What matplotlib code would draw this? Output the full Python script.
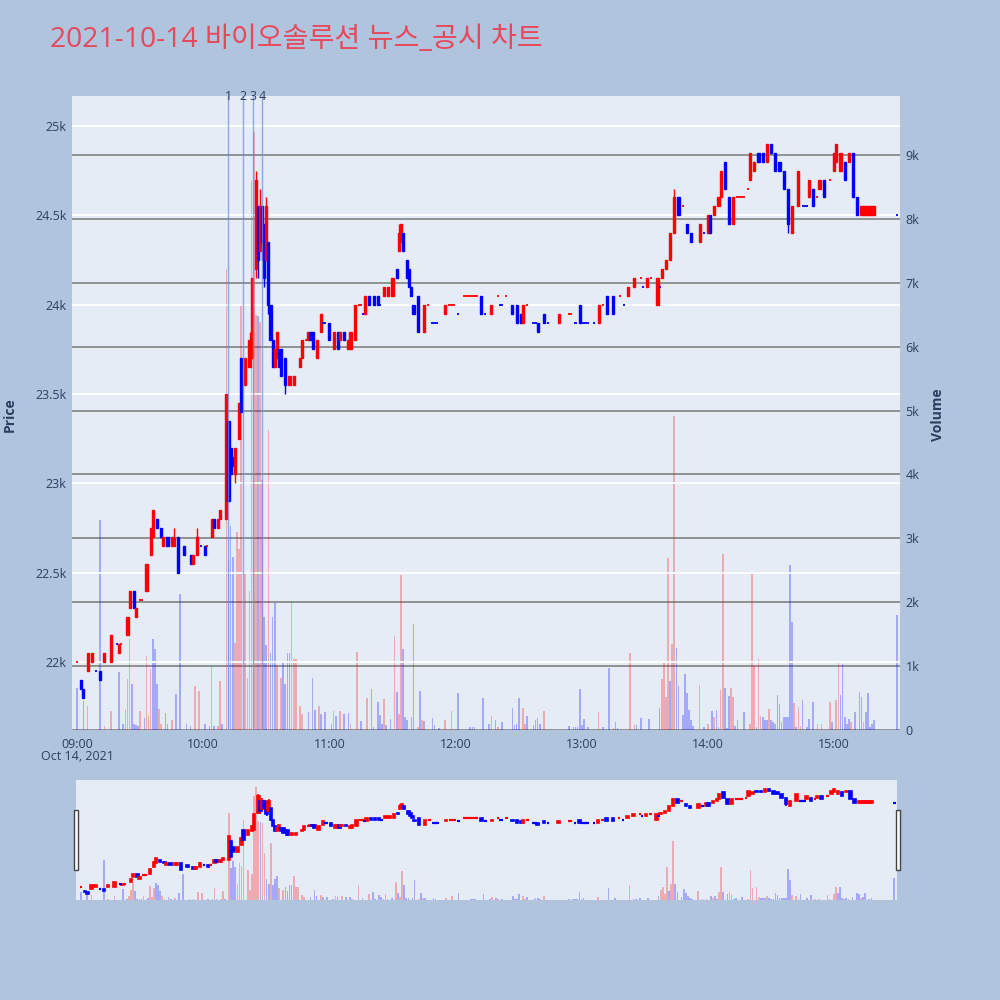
import matplotlib
matplotlib.use("Agg")
import matplotlib.pyplot as plt
import matplotlib.transforms as mtransforms
from matplotlib.patches import Rectangle
from matplotlib.colors import to_rgba

plt.rcParams['font.family'] = ['Open Sans', 'Noto Sans CJK KR', 'DejaVu Sans']

TITLE = "2021-10-14 바이오솔루션 뉴스_공시 차트"
x_tick_minutes = [0, 60, 120, 180, 240, 300, 360]
x_tick_labels = ["09:00", "10:00", "11:00", "12:00", "13:00", "14:00", "15:00"]
date_label = "Oct 14, 2021"
price_ticks = [22000, 22500, 23000, 23500, 24000, 24500, 25000]
price_tick_labels = ["22k", "22.5k", "23k", "23.5k", "24k", "24.5k", "25k"]
volume_ticks = [0, 1000, 2000, 3000, 4000, 5000, 6000, 7000, 8000, 9000]
volume_tick_labels = ["0", "1k", "2k", "3k", "4k", "5k", "6k", "7k", "8k", "9k"]
news_minutes = [72, 79, 83.5, 88]
news_labels = ["1", "2", "3", "4"]

# minute candles (minutes after 09:00)
c_time = [0, 2, 3, 5, 7, 9, 11, 13, 16, 19, 20, 21, 24, 25, 27, 28, 30, 31, 33, 35,
          36, 38, 40, 41, 43, 45, 46, 48, 51, 54, 55, 57, 59, 61, 62, 64, 65, 67, 68, 71,
          72, 73, 74, 75, 77, 78, 80, 82, 83, 85, 86, 87, 88, 89, 90, 91, 92, 93, 94, 95,
          96, 97, 99, 101, 103, 106, 107, 109, 110, 111, 112, 114, 116, 117, 118, 120, 122, 124, 125, 127,
          129, 130, 132, 134, 135, 136, 137, 139, 141, 143, 144, 146, 148, 150, 152, 153, 154, 155, 157, 158,
          159, 160, 162, 165, 167, 169, 170, 171, 175, 177, 178, 179, 181, 184, 185, 186, 187, 188, 189, 190,
          192, 194, 197, 200, 201, 202, 204, 207, 209, 211, 212, 214, 217, 218, 219, 222, 224, 229, 234, 235,
          237, 239, 240, 241, 242, 243, 246, 248, 250, 252, 255, 258, 260, 262, 265, 268, 269, 271, 273, 276,
          277, 278, 280, 282, 284, 286, 288, 290, 292, 296, 298, 300, 301, 303, 305, 306, 308, 310, 312, 314,
          315, 316, 317, 319, 320, 322, 324, 326, 328, 330, 332, 334, 336, 338, 340, 343, 345, 346, 347, 348,
          350, 352, 353, 355, 358, 360, 361, 363, 365, 367, 369, 371, 373, 374, 375, 376, 377, 378, 379, 390]
c_open = [22000, 21900, 21850, 21950, 22000, 21950, 21950, 22000, 22000, 22100, 22050, 22100, 22150, 22300, 22400, 22250, 22350, 22350, 22400, 22600,
          22700, 22800, 22750, 22650, 22700, 22650, 22650, 22700, 22650, 22600, 22550, 22600, 22650, 22650, 22650, 22700, 22800, 22750, 22800, 22800,
          23350, 23200, 23150, 23050, 23250, 23700, 23550, 23650, 23700, 24200, 24550, 24300, 24550, 24450, 24250, 24350, 24000, 23800, 23650, 23700,
          23750, 23750, 23700, 23550, 23550, 23650, 23700, 23800, 23800, 23850, 23850, 23700, 23850, 23900, 23900, 23900, 23750, 23850, 23800, 23850,
          23750, 23750, 23800, 24000, 24000, 23950, 23950, 24050, 24050, 24050, 24000, 24050, 24050, 24050, 24200, 24300, 24350, 24400, 24250, 24200,
          24100, 24000, 24050, 23850, 24000, 23900, 23900, 23900, 23950, 24000, 24000, 24000, 23950, 24050, 24050, 24050, 24050, 24050, 24050, 24050,
          24050, 23950, 23950, 24050, 24000, 24000, 24050, 24000, 24000, 23950, 23900, 24000, 23900, 23900, 23900, 23950, 23900, 23900, 23950, 23950,
          23900, 24000, 23900, 23900, 23900, 23900, 23900, 23900, 24000, 24050, 24050, 24050, 24000, 24050, 24100, 24150, 24100, 24100, 24150, 24000,
          24100, 24150, 24200, 24250, 24400, 24600, 24550, 24450, 24400, 24350, 24400, 24400, 24500, 24500, 24550, 24600, 24800, 24600, 24450, 24600,
          24600, 24600, 24600, 24650, 24700, 24750, 24850, 24850, 24800, 24900, 24850, 24800, 24750, 24650, 24400, 24550, 24550, 24550, 24550, 24600,
          24650, 24600, 24650, 24700, 24700, 24750, 24800, 24750, 24800, 24800, 24850, 24600, 24500, 24500, 24500, 24500, 24500, 24500, 24500, 24500]
c_high = [22000, 21900, 21850, 22050, 22050, 21950, 21950, 22050, 22150, 22100, 22100, 22100, 22250, 22400, 22400, 22300, 22350, 22350, 22550, 22750,
          22850, 22800, 22750, 22700, 22700, 22700, 22750, 22700, 22650, 22600, 22600, 22750, 22650, 22650, 22650, 22800, 22800, 22800, 22850, 23500,
          23350, 23200, 23150, 23200, 23450, 23700, 23700, 23850, 24150, 24750, 24550, 24650, 24550, 24450, 24600, 24350, 24000, 23800, 23750, 23850,
          23750, 23750, 23700, 23600, 23600, 23700, 23800, 23800, 23850, 23850, 23850, 23800, 23950, 23900, 23900, 23900, 23850, 23850, 23850, 23850,
          23800, 23850, 24000, 24000, 24000, 23950, 24050, 24050, 24050, 24050, 24000, 24100, 24100, 24150, 24200, 24450, 24450, 24400, 24250, 24200,
          24100, 24000, 24050, 24000, 24000, 23900, 23900, 23900, 24000, 24000, 24000, 24000, 23950, 24050, 24050, 24050, 24050, 24050, 24050, 24050,
          24050, 23950, 24000, 24050, 24000, 24000, 24050, 24000, 24000, 23950, 24000, 24000, 23900, 23900, 23900, 23950, 23900, 23950, 23950, 23950,
          23900, 24000, 23900, 23900, 23900, 23900, 23900, 24000, 24000, 24050, 24050, 24050, 24000, 24100, 24150, 24150, 24100, 24150, 24150, 24150,
          24100, 24200, 24250, 24400, 24650, 24600, 24550, 24450, 24400, 24450, 24400, 24500, 24500, 24550, 24600, 24750, 24800, 24600, 24600, 24600,
          24600, 24600, 24600, 24650, 24850, 24800, 24850, 24850, 24900, 24900, 24850, 24800, 24750, 24650, 24550, 24750, 24550, 24550, 24550, 24700,
          24650, 24600, 24700, 24700, 24700, 24850, 24900, 24850, 24800, 24850, 24850, 24600, 24550, 24550, 24550, 24550, 24550, 24550, 24550, 24500]
c_low = [22000, 21850, 21800, 21950, 22000, 21950, 21900, 22000, 22000, 22100, 22050, 22100, 22150, 22300, 22300, 22250, 22350, 22350, 22400, 22600,
         22700, 22750, 22700, 22650, 22650, 22650, 22650, 22500, 22600, 22550, 22550, 22600, 22650, 22600, 22650, 22700, 22750, 22750, 22800, 22800,
         22900, 23050, 23100, 23000, 23250, 23400, 23550, 23650, 23700, 24150, 24150, 24300, 24250, 24100, 24250, 23950, 23800, 23650, 23650, 23700,
         23650, 23600, 23500, 23550, 23550, 23650, 23700, 23800, 23800, 23800, 23750, 23700, 23850, 23900, 23900, 23800, 23750, 23750, 23800, 23800,
         23750, 23750, 23800, 24000, 24000, 23950, 23950, 24000, 24000, 24000, 24000, 24050, 24050, 24050, 24150, 24300, 24350, 24300, 24150, 24100,
         24050, 23950, 23850, 23850, 24000, 23900, 23900, 23900, 23950, 24000, 24000, 24000, 23950, 24050, 24050, 24050, 24050, 24050, 24050, 24050,
         23950, 23950, 23950, 24050, 24000, 24000, 24050, 23950, 23900, 23900, 23900, 24000, 23900, 23900, 23850, 23900, 23900, 23900, 23950, 23950,
         23900, 23900, 23900, 23900, 23900, 23900, 23900, 23900, 24000, 23950, 23950, 24050, 24000, 24050, 24100, 24150, 24100, 24100, 24150, 24000,
         24100, 24150, 24200, 24250, 24400, 24500, 24550, 24400, 24350, 24350, 24400, 24400, 24400, 24500, 24550, 24600, 24650, 24450, 24450, 24600,
         24600, 24600, 24600, 24650, 24700, 24750, 24800, 24800, 24800, 24850, 24750, 24750, 24650, 24400, 24400, 24550, 24550, 24550, 24550, 24600,
         24550, 24600, 24650, 24600, 24700, 24750, 24800, 24750, 24700, 24800, 24600, 24500, 24500, 24500, 24500, 24500, 24500, 24500, 24500, 24500]
c_close = [22000, 21850, 21800, 22050, 22050, 21950, 21900, 22050, 22150, 22100, 22100, 22100, 22250, 22400, 22300, 22300, 22350, 22350, 22550, 22750,
           22850, 22750, 22700, 22700, 22650, 22700, 22700, 22500, 22600, 22550, 22600, 22700, 22650, 22600, 22650, 22800, 22750, 22800, 22850, 23500,
           22900, 23050, 23100, 23200, 23450, 23400, 23700, 23800, 24150, 24700, 24250, 24550, 24350, 24150, 24550, 24000, 23800, 23650, 23750, 23850,
           23650, 23600, 23550, 23600, 23600, 23700, 23800, 23800, 23850, 23800, 23750, 23800, 23950, 23900, 23900, 23800, 23850, 23750, 23850, 23800,
           23800, 23850, 24000, 24000, 24000, 23950, 24050, 24000, 24000, 24000, 24000, 24100, 24100, 24150, 24150, 24400, 24450, 24300, 24150, 24100,
           24050, 23950, 23850, 24000, 24000, 23900, 23900, 23900, 24000, 24000, 24000, 24000, 23950, 24050, 24050, 24050, 24050, 24050, 24050, 24050,
           23950, 23950, 24000, 24050, 24000, 24000, 24050, 23950, 23900, 23900, 24000, 24000, 23900, 23900, 23850, 23900, 23900, 23950, 23950, 23950,
           23900, 23900, 23900, 23900, 23900, 23900, 23900, 24000, 24000, 23950, 23950, 24050, 24000, 24100, 24150, 24150, 24100, 24150, 24150, 24150,
           24100, 24200, 24250, 24400, 24600, 24500, 24550, 24400, 24350, 24450, 24400, 24500, 24400, 24550, 24600, 24750, 24650, 24450, 24600, 24600,
           24600, 24600, 24600, 24650, 24850, 24800, 24800, 24800, 24900, 24850, 24750, 24750, 24650, 24450, 24550, 24750, 24550, 24550, 24550, 24700,
           24550, 24600, 24700, 24600, 24700, 24850, 24900, 24850, 24700, 24850, 24600, 24500, 24550, 24550, 24550, 24550, 24550, 24550, 24550, 24500]

# volume bars: minute, shares, direction (u = up/red, d = down/blue)
v_time = [0, 3, 5, 11, 13, 16, 20, 22, 23, 24, 25, 26, 27, 28, 29, 30, 32, 33, 34, 35,
          36, 37, 38, 39, 40, 42, 43, 45, 47, 49, 52, 54, 56, 58, 61, 63, 64, 65, 67, 68,
          69, 71, 72, 73, 74, 75, 76, 77, 78, 80, 81, 82, 83, 84, 85, 86, 87, 88, 89, 90,
          91, 92, 93, 94, 95, 97, 98, 99, 100, 101, 102, 103, 104, 106, 107, 110, 112, 113, 115, 116,
          118, 121, 122, 123, 125, 127, 129, 130, 133, 135, 138, 140, 141, 143, 144, 145, 146, 147, 149, 151,
          152, 153, 154, 155, 156, 157, 159, 160, 162, 163, 164, 165, 169, 170, 172, 175, 178, 181, 187, 188,
          189, 193, 196, 197, 199, 200, 202, 207, 208, 209, 210, 212, 213, 214, 217, 218, 219, 220, 222, 234,
          236, 237, 238, 239, 240, 241, 243, 248, 250, 253, 255, 256, 257, 263, 265, 266, 268, 272, 277, 278,
          279, 280, 281, 282, 283, 284, 285, 286, 288, 289, 290, 291, 292, 293, 296, 298, 300, 302, 303, 304,
          305, 306, 307, 308, 309, 310, 311, 312, 313, 314, 317, 320, 321, 322, 323, 324, 325, 326, 327, 328,
          329, 330, 331, 332, 333, 334, 335, 336, 337, 338, 339, 340, 341, 342, 343, 344, 345, 347, 348, 350,
          352, 354, 358, 359, 361, 362, 363, 364, 365, 366, 367, 368, 370, 372, 373, 374, 375, 376, 377, 378,
          379, 390]
v_value = [660, 455, 375, 3280, 60, 300, 910, 100, 330, 800, 1430, 720, 100, 80, 60, 300, 190, 1160, 220, 960,
           1430, 1270, 720, 330, 100, 265, 100, 150, 565, 2130, 100, 60, 690, 610, 100, 60, 1000, 60, 60, 760,
           100, 7210, 2650, 3200, 2710, 1360, 3100, 2840, 6630, 2460, 815, 2180, 8590, 9360, 6500, 6480, 6380, 3920, 1770, 1330,
           4700, 1210, 1770, 1990, 1020, 815, 1080, 720, 1210, 1210, 2020, 1110, 1110, 375, 250, 280, 815, 310, 375, 250,
           280, 100, 300, 220, 300, 250, 265, 100, 1220, 140, 500, 640, 50, 440, 235, 100, 490, 80, 170, 1470,
           600, 250, 2420, 1270, 200, 150, 200, 1660, 50, 610, 150, 140, 190, 80, 30, 150, 300, 580, 50, 50,
           50, 500, 100, 220, 150, 50, 120, 345, 80, 100, 500, 345, 100, 220, 80, 150, 190, 90, 300, 60,
           50, 50, 50, 640, 80, 180, 40, 280, 40, 970, 30, 130, 30, 1210, 100, 80, 190, 170, 345, 800,
           1050, 520, 2700, 770, 1350, 4920, 1290, 690, 235, 880, 580, 310, 150, 60, 705, 50, 100, 300, 200, 310,
           50, 630, 2760, 660, 30, 530, 660, 520, 60, 150, 280, 100, 2460, 1000, 40, 1110, 220, 200, 150, 150,
           330, 150, 120, 100, 550, 410, 130, 200, 200, 200, 2590, 1690, 420, 40, 360, 60, 470, 40, 180, 440,
           100, 100, 440, 120, 470, 1070, 550, 1040, 200, 100, 180, 120, 280, 600, 520, 130, 280, 580, 40, 100,
           160, 1800]
v_dir = ["d", "d", "u", "d", "u", "u", "d", "d", "u", "u", "u", "d", "d", "d", "d", "u", "d", "u", "u", "u",
         "d", "d", "d", "u", "u", "d", "d", "u", "d", "d", "d", "d", "u", "u", "d", "d", "u", "d", "u", "u",
         "d", "u", "d", "d", "d", "u", "u", "u", "u", "u", "u", "u", "u", "u", "u", "d", "u", "u", "d", "d",
         "u", "d", "d", "d", "u", "u", "d", "d", "d", "d", "u", "u", "u", "u", "u", "d", "d", "d", "u", "d",
         "d", "d", "u", "d", "u", "d", "d", "u", "u", "d", "u", "d", "d", "d", "d", "d", "u", "d", "d", "u",
         "d", "u", "u", "d", "d", "d", "d", "d", "u", "d", "u", "d", "d", "d", "d", "u", "u", "d", "d", "d",
         "d", "d", "d", "u", "d", "u", "d", "d", "d", "d", "d", "u", "u", "d", "d", "d", "d", "d", "u", "d",
         "d", "d", "d", "d", "d", "d", "d", "u", "d", "d", "u", "d", "d", "u", "u", "d", "d", "d", "d", "u",
         "u", "u", "u", "d", "u", "u", "d", "d", "d", "d", "d", "d", "d", "d", "u", "d", "u", "d", "u", "d",
         "d", "u", "u", "d", "d", "d", "u", "u", "d", "d", "d", "u", "u", "u", "d", "u", "u", "d", "d", "d",
         "u", "d", "d", "d", "d", "d", "d", "d", "d", "d", "d", "d", "u", "d", "u", "u", "d", "d", "d", "d",
         "u", "u", "u", "d", "u", "u", "d", "d", "d", "d", "d", "u", "d", "d", "d", "u", "d", "d", "d", "d",
         "d", "d"]

# ---- styling ----
PAPER = "#b0c4de"
PLOT_BG = "#e5ecf6"
TEXT = "#2a3f5f"
UP, DOWN = "#ff0000", "#0000ff"
X_RANGE = (-2.4, 391.3)
P_RANGE = (21620, 25168)
V_RANGE = (0, 9925)

# candle colours
c_color = []
last_up = True
prev_close = None
for o, c in zip(c_open, c_close):
    if c > o:
        up = True
    elif c < o:
        up = False
    elif prev_close is None:
        up = True
    elif c > prev_close:
        up = True
    elif c < prev_close:
        up = False
    else:
        up = last_up
    c_color.append(UP if up else DOWN)
    last_up = up
    prev_close = c

v_color = [to_rgba(UP if d == "u" else DOWN, 0.28) for d in v_dir]


def draw_candles(ax, body_w, lw):
    ax.vlines(c_time, c_low, c_high, colors=c_color, linewidth=lw, zorder=3)
    bt, bb, bh, bc = [], [], [], []
    dt, dy, dc = [], [], []
    for t, o, c, col in zip(c_time, c_open, c_close, c_color):
        if c != o:
            bt.append(t); bb.append(min(o, c)); bh.append(abs(c - o)); bc.append(col)
        else:
            dt.append(t); dy.append(o); dc.append(col)
    ax.bar(bt, bh, bottom=bb, width=body_w, color=bc, edgecolor=bc, linewidth=lw, zorder=3)
    ax.hlines(dy, [t - body_w / 2 for t in dt], [t + body_w / 2 for t in dt],
              colors=dc, linewidth=lw * 1.3, zorder=3)


fig = plt.figure(figsize=(10, 10), dpi=100, facecolor=PAPER)

# main panel: volume axes at the back (right ticks), price axes on top (left ticks)
ax_v = fig.add_axes([0.072, 0.27, 0.828, 0.634])
ax_v.set_facecolor(PLOT_BG)
ax_p = ax_v.twinx()

ax_v.bar(v_time, v_value, width=0.8, color=v_color, linewidth=0, zorder=2)
ax_v.set_ylim(*V_RANGE)
ax_v.set_yticks(volume_ticks)
ax_v.set_yticklabels(volume_tick_labels)
ax_v.yaxis.tick_right()
ax_v.set_axisbelow(True)
ax_v.grid(axis='y', color='#8a8a8a', linewidth=1.3, zorder=0)
ax_v.set_xlim(*X_RANGE)
ax_v.set_xticks(x_tick_minutes)
ax_v.set_xticklabels(x_tick_labels)

draw_candles(ax_p, 1.0, 1.0)
ax_p.set_ylim(*P_RANGE)
ax_p.set_yticks(price_ticks)
ax_p.set_yticklabels(price_tick_labels)
ax_p.yaxis.tick_left()
ax_p.set_axisbelow(True)
ax_p.grid(axis='y', color='white', linewidth=1.3, zorder=0)
ax_p.set_xlim(*X_RANGE)

for ax in (ax_v, ax_p):
    for s in ax.spines.values():
        s.set_visible(False)
    ax.tick_params(axis='both', length=0, labelsize=9, labelcolor=TEXT, pad=4)
ax_v.tick_params(axis='x', pad=6)

# news markers
trans = mtransforms.blended_transform_factory(ax_p.transData, ax_p.transAxes)
for t, lab in zip(news_minutes, news_labels):
    ax_p.axvline(t, color='#6f8de8', linewidth=1.0, alpha=0.75, zorder=5)
    ax_p.text(t, 1.0, lab, transform=trans, ha='center', va='center', fontsize=9,
              color=TEXT, zorder=6, clip_on=False)

# text
fig.text(0.05, 0.96, TITLE, fontsize=20.3, color='#e8485c', ha='left', va='center',
         family=['Open Sans', 'Noto Sans CJK KR', 'DejaVu Sans'])
fig.text(0.077, 0.243, date_label, fontsize=9, color=TEXT, ha='center', va='center')
fig.text(0.010, 0.585, "Price", fontsize=10, fontweight='bold', color=TEXT,
         rotation=90, ha='center', va='center')
fig.text(0.938, 0.585, "Volume", fontsize=10, fontweight='bold', color=TEXT,
         rotation=90, ha='center', va='center')

# range slider
ax_sv = fig.add_axes([0.076, 0.10, 0.821, 0.12])
ax_sv.set_facecolor(PLOT_BG)
ax_sp = ax_sv.twinx()
ax_sv.bar(v_time, v_value, width=0.8, color=v_color, linewidth=0, zorder=2)
ax_sv.set_ylim(*V_RANGE)
draw_candles(ax_sp, 1.2, 1.2)
ax_sp.set_ylim(*P_RANGE)
for ax in (ax_sv, ax_sp):
    ax.set_xlim(*X_RANGE)
    ax.set_xticks([])
    ax.set_yticks([])
    for s in ax.spines.values():
        s.set_visible(False)

for hx in (0.0735, 0.8955):
    fig.add_artist(Rectangle((hx, 0.13), 0.004, 0.06, transform=fig.transFigure,
                             facecolor='white', edgecolor='#444444', linewidth=1))

fig.savefig("out.png", dpi=100, facecolor=PAPER)
